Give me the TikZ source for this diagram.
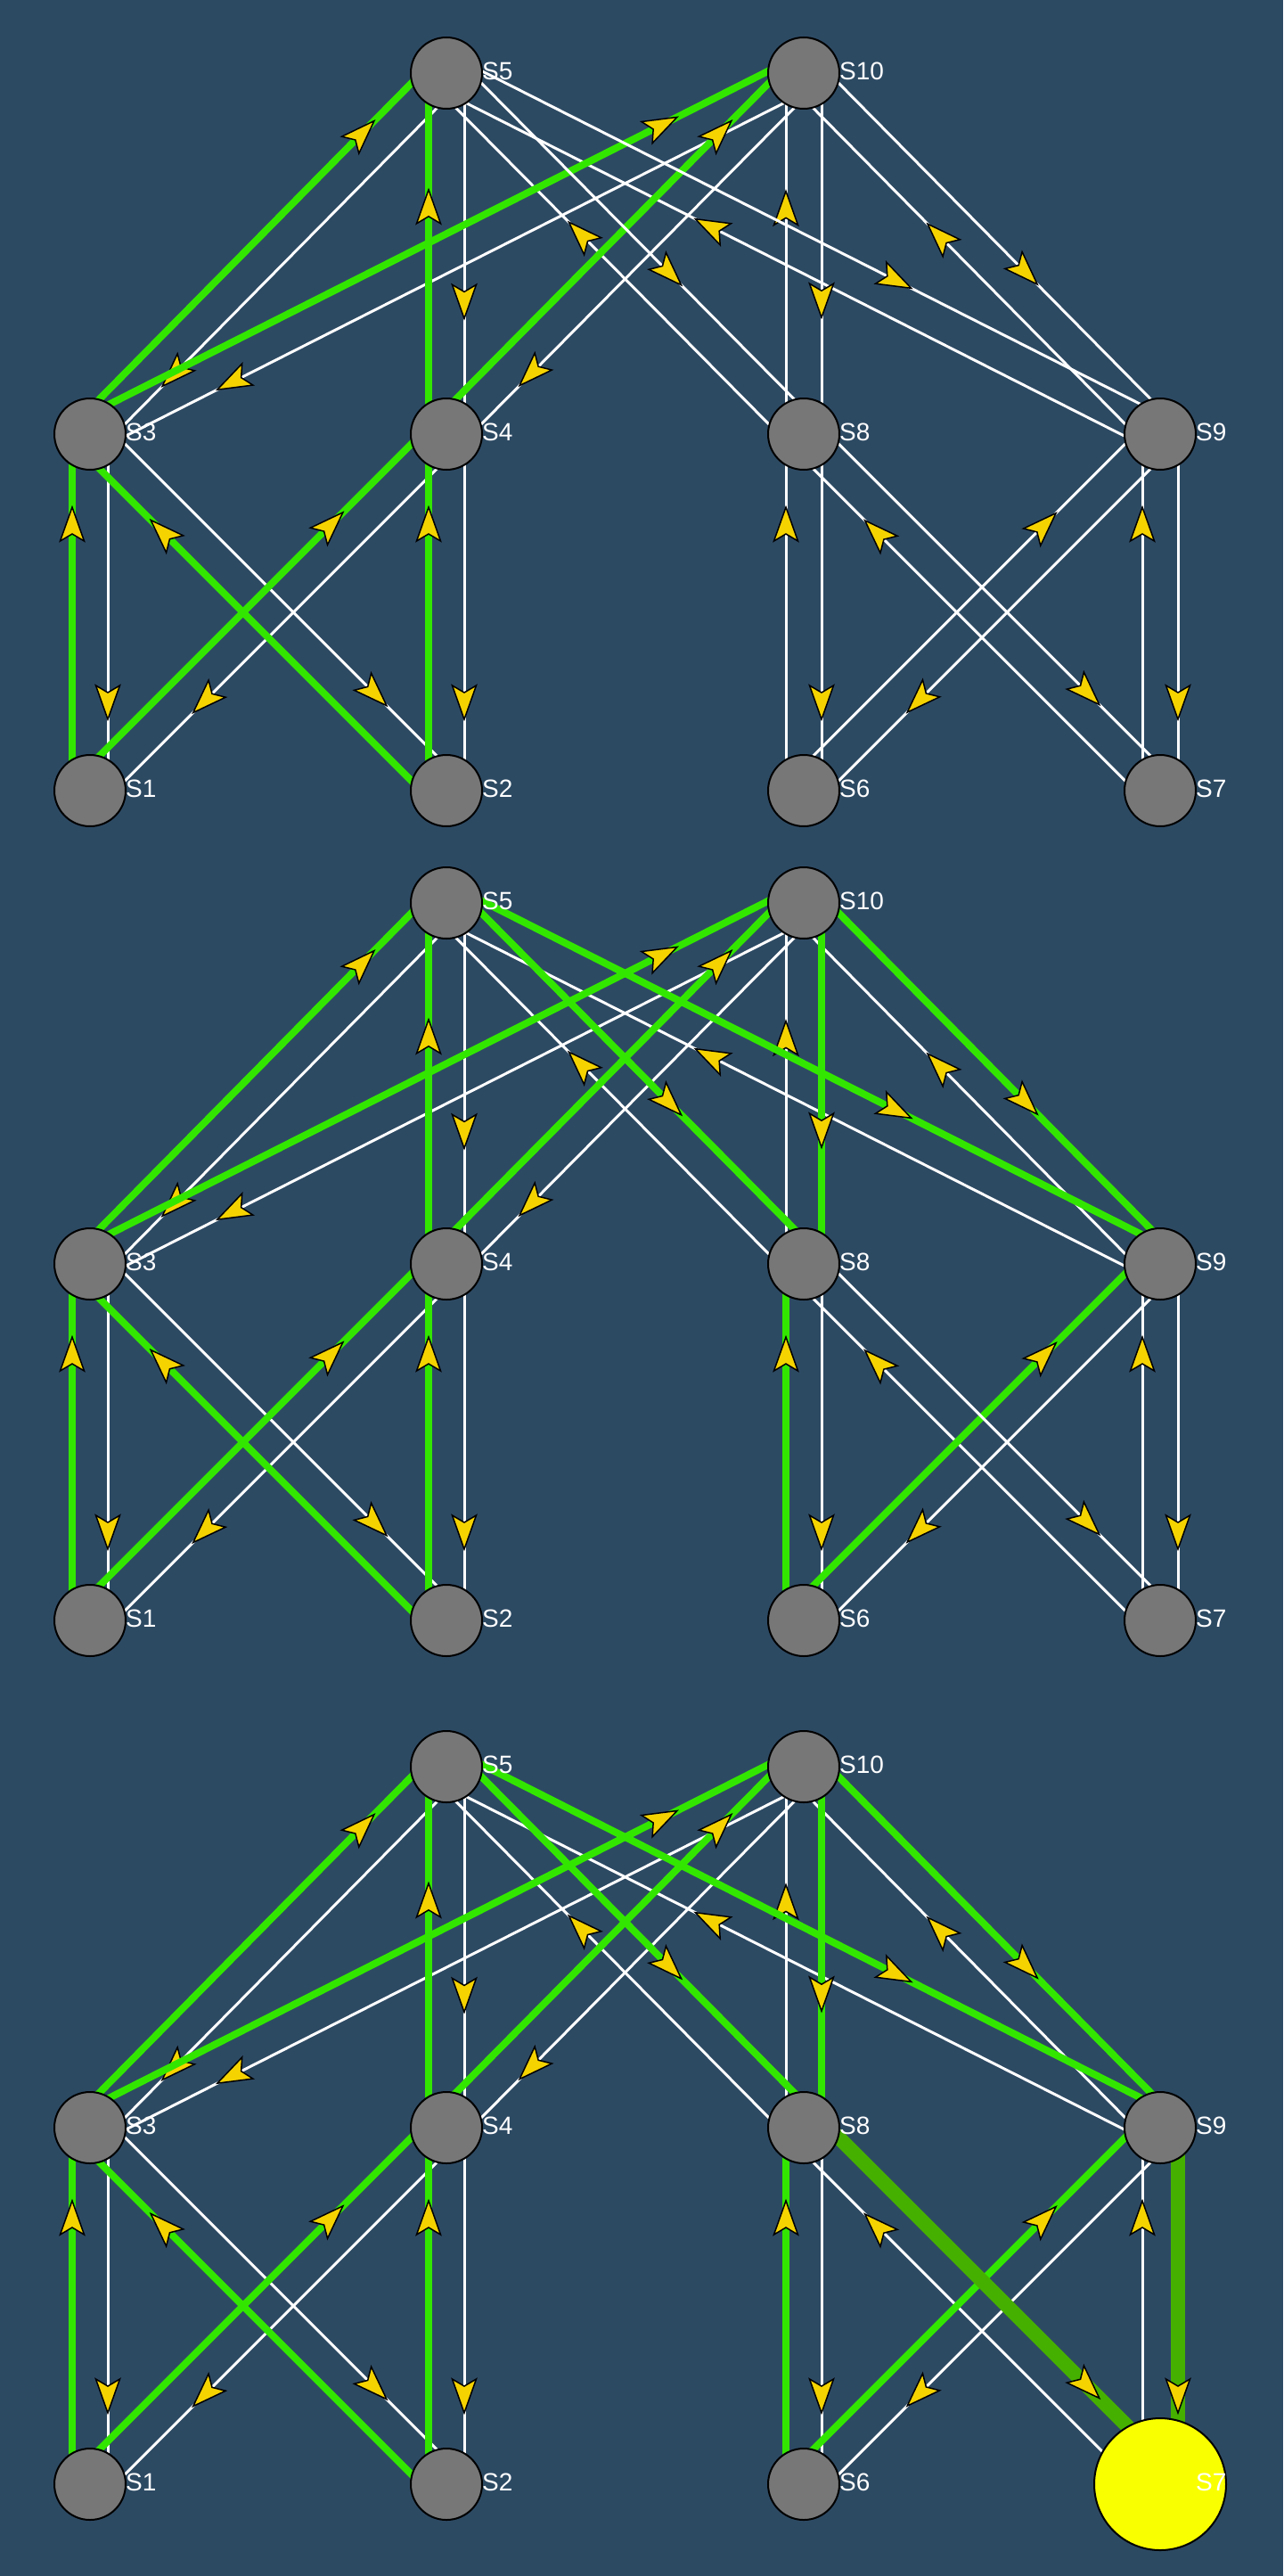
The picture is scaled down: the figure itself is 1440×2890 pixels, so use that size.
\documentclass[tikz,border=0pt]{standalone}
\usepackage{fontspec}
\setmainfont{Liberation Sans}
\usetikzlibrary{calc,decorations.markings}
\definecolor{bgc}{HTML}{2D4A63}
\definecolor{nodegray}{HTML}{777777}
\definecolor{hgreen}{HTML}{33E600}
\definecolor{dgreen}{HTML}{46B000}
\definecolor{ayellow}{HTML}{F5D300}
\definecolor{hotyellow}{HTML}{FAFF00}
\pgfdeclarelayer{back}
\pgfdeclarelayer{edges}
\pgfsetlayers{back,edges,main}
\tikzset{
  sw/.style={circle, draw=black, line width=2pt, fill=nodegray, minimum size=80pt, inner sep=0pt},
  hot/.style={circle, draw=black, line width=2pt, fill=hotyellow, minimum size=148pt, inner sep=0pt},
  lbl/.style={anchor=base west, text=white, inner sep=0pt, font=\fontsize{28}{30}\selectfont},
  wl/.style={draw=white, line width=3pt},
  gl/.style={draw=hgreen, line width=8pt},
  dl/.style={draw=dgreen, line width=16pt},
}
\newcommand\tipshape{\filldraw[fill=ayellow, draw=black, line width=1.5pt] (0pt,0pt) -- (-38pt,13.5pt) -- (-30pt,0pt) -- (-38pt,-13.5pt) -- cycle;}
\newcommand\lnk[4]{%
  \path[#4, postaction={decorate}, decoration={markings, mark=at position #3 with {\tipshape}}]
    ($(#1)!20pt!90:(#2)$) -- ($(#2)!20pt!-90:(#1)$);}
% nodes of one panel: prefix, y offset, style of S7
\newcommand\panelnodes[3]{%
  \node[sw] (#1s5)  at (501,{82+#2}) {};
  \node[sw] (#1s10) at (902,{82+#2}) {};
  \node[sw] (#1s3)  at (101,{487+#2}) {};
  \node[sw] (#1s4)  at (501,{487+#2}) {};
  \node[sw] (#1s8)  at (902,{487+#2}) {};
  \node[sw] (#1s9)  at (1302,{487+#2}) {};
  \node[sw] (#1s1)  at (101,{887+#2}) {};
  \node[sw] (#1s2)  at (501,{887+#2}) {};
  \node[sw] (#1s6)  at (902,{887+#2}) {};
  \node[#3] (#1s7)  at (1302,{887+#2}) {};
  \node[lbl] (#1l5)  at ($(#1s5.center)+(40,7.5)$) {S5};
  \node[lbl] (#1l10) at ($(#1s10.center)+(40,7.5)$) {S10};
  \node[lbl] (#1l3)  at ($(#1s3.center)+(40,7.5)$) {S3};
  \node[lbl] (#1l4)  at ($(#1s4.center)+(40,7.5)$) {S4};
  \node[lbl] (#1l8)  at ($(#1s8.center)+(40,7.5)$) {S8};
  \node[lbl] (#1l9)  at ($(#1s9.center)+(40,7.5)$) {S9};
  \node[lbl] (#1l1)  at ($(#1s1.center)+(40,7.5)$) {S1};
  \node[lbl] (#1l2)  at ($(#1s2.center)+(40,7.5)$) {S2};
  \node[lbl] (#1l6)  at ($(#1s6.center)+(40,7.5)$) {S6};
  \node[lbl] (#1l7)  at ($(#1s7.center)+(40,7.5)$) {S7};
}
% links of one panel: prefix, style of core->right pod group, style of ->S7 group
\newcommand\panellinks[3]{%
  % always white
  \lnk{#1s3}{#1s1}{0.80}{wl}
  \lnk{#1s4}{#1s2}{0.80}{wl}
  \lnk{#1s3}{#1s2}{0.797}{wl}
  \lnk{#1s4}{#1s1}{0.746}{wl}
  \lnk{#1s8}{#1s6}{0.80}{wl}
  \lnk{#1s7}{#1s9}{0.795}{wl}
  \lnk{#1s7}{#1s8}{0.793}{wl}
  \lnk{#1s9}{#1s6}{0.745}{wl}
  \lnk{#1s5}{#1s3}{0.833}{wl}
  \lnk{#1s5}{#1s4}{0.68}{wl}
  \lnk{#1s10}{#1s3}{0.833}{wl}
  \lnk{#1s10}{#1s4}{0.831}{wl}
  \lnk{#1s8}{#1s5}{0.622}{wl}
  \lnk{#1s9}{#1s5}{0.64}{wl}
  \lnk{#1s8}{#1s10}{0.673}{wl}
  \lnk{#1s9}{#1s10}{0.617}{wl}
  % always green
  \lnk{#1s1}{#1s3}{0.795}{gl}
  \lnk{#1s2}{#1s4}{0.795}{gl}
  \lnk{#1s2}{#1s3}{0.794}{gl}
  \lnk{#1s1}{#1s4}{0.745}{gl}
  \lnk{#1s3}{#1s5}{0.833}{gl}
  \lnk{#1s4}{#1s5}{0.677}{gl}
  \lnk{#1s3}{#1s10}{0.834}{gl}
  \lnk{#1s4}{#1s10}{0.833}{gl}
  % core to right pod
  \lnk{#1s5}{#1s8}{0.622}{#2}
  \lnk{#1s5}{#1s9}{0.64}{#2}
  \lnk{#1s10}{#1s8}{0.677}{#2}
  \lnk{#1s10}{#1s9}{0.62}{#2}
  \lnk{#1s6}{#1s8}{0.795}{#2}
  \lnk{#1s6}{#1s9}{0.743}{#2}
  % towards S7
  \lnk{#1s9}{#1s7}{0.80}{#3}
  \lnk{#1s8}{#1s7}{0.794}{#3}
}
\begin{document}
\begin{tikzpicture}[x=1pt,y=-1pt]
\begin{pgfonlayer}{back}
  \fill[bgc] (0,0) rectangle (1440,2890);
\end{pgfonlayer}
\useasboundingbox (0,0) rectangle (1440,2890);
\panelnodes{a}{0}{sw}
\panelnodes{b}{931}{sw}
\panelnodes{c}{1900}{hot}
\begin{pgfonlayer}{edges}
\panellinks{a}{wl}{wl}
\panellinks{b}{gl}{wl}
\panellinks{c}{gl}{dl}
\end{pgfonlayer}
\end{tikzpicture}
\end{document}
